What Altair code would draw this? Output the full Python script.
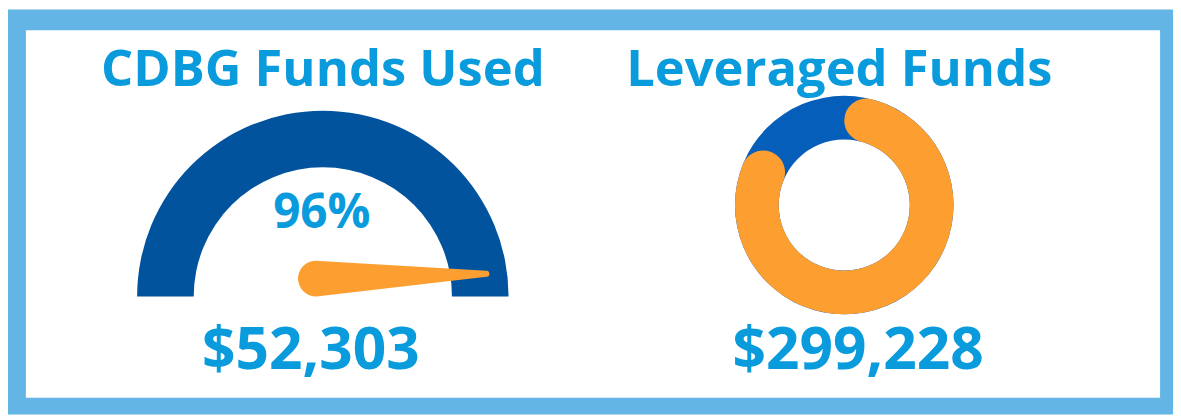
import math
import altair as alt
import pandas as pd

# ---- data ----
titles = ["CDBG Funds Used", "Leveraged Funds"]
amounts = [52303, 299228]          # CDBG used, leveraged
gauge_pct = [96]                   # percent of CDBG funds used
gauge_range = [0, 100]

# ---- layout / style ----
W, H = 1173, 408
TXT = "#0A9BDD"
GAUGE_BLUE = "#02539E"
RING_BLUE = "#045EBA"
ORANGE = "#FD9F30"
BORDER = "#62B5E5"
FONT = "Open Sans"
DX = 2
RX = 5   # right-panel offset

GCX, GCY = 315 + DX, 289          # gauge centre (px)
DCX, DCY = 837 + RX, 197          # donut centre (px)

px_x = alt.Scale(domain=[0, W], range=[0, W], nice=False, zero=False)
px_y = alt.Scale(domain=[0, H], range=[0, H], nice=False, zero=False)

one = pd.DataFrame({"k": [0]})

# border
outer = alt.Chart(one).mark_rect(color=BORDER).encode(
    x=alt.value(0), x2=alt.value(W), y=alt.value(0), y2=alt.value(H))
inner = alt.Chart(one).mark_rect(color="white").encode(
    x=alt.value(18), x2=alt.value(1160), y=alt.value(21), y2=alt.value(391))

# gauge
gdf = pd.DataFrame({"lo": [gauge_range[0]], "hi": [gauge_range[1]]})
g_scale = alt.Scale(domain=gauge_range, range=[1.5 * math.pi, 2.5 * math.pi])
gauge = alt.Chart(gdf).mark_arc(color=GAUGE_BLUE, radius=187, radius2=130).encode(
    theta=alt.Theta("lo:Q", scale=g_scale),
    theta2="hi:Q",
    x=alt.value(GCX), y=alt.value(GCY))

# needle
ang = 1.5 * math.pi + (gauge_pct[0] - gauge_range[0]) / (gauge_range[1] - gauge_range[0]) * math.pi
tip_r = 166
ndf = pd.DataFrame({
    "px": [GCX - 7, GCX + tip_r * math.sin(ang)],
    "py": [271, GCY - tip_r * math.cos(ang) - 2],
    "w": [36, 6],
    "o": [0, 1],
})
needle = alt.Chart(ndf).mark_trail(color=ORANGE).encode(
    x=alt.X("px:Q", scale=px_x, axis=None),
    y=alt.Y("py:Q", scale=px_y, axis=None),
    size=alt.Size("w:Q", scale=None, legend=None),
    order="o:Q")

# donut
total = sum(amounts)
ddf = pd.DataFrame({"start": [0, 0], "end": [total, amounts[1]],
                    "part": ["total", "leveraged"]})
d_scale = alt.Scale(domain=[0, total], range=[0, 2 * math.pi])
ring = alt.Chart(ddf[ddf.part == "total"]).mark_arc(color=RING_BLUE, radius=110, radius2=66).encode(
    theta=alt.Theta("start:Q", scale=d_scale), theta2="end:Q",
    x=alt.value(DCX), y=alt.value(DCY))
lev = alt.Chart(ddf[ddf.part == "leveraged"]).mark_arc(
    color=ORANGE, radius=110, radius2=66, cornerRadius=22).encode(
    theta=alt.Theta("start:Q", scale=d_scale), theta2="end:Q",
    x=alt.value(DCX), y=alt.value(DCY))

# titles and amounts
def label(text, x, y, size):
    return alt.Chart(pd.DataFrame({"t": [text]})).mark_text(
        font=FONT, fontWeight="bold", fontSize=size, color=TXT,
        align="center", baseline="alphabetic"
    ).encode(text="t:N", x=alt.value(x), y=alt.value(y))

pct_text = label(f"{gauge_pct[0]}%", 314 + DX, 220, 48)
t1 = label(titles[0], 315 + DX, 77, 51)
t2 = label(titles[1], 832 + RX, 77, 51)
a1 = label(f"${amounts[0]:,}", 303 + DX, 362, 59)
a2 = label(f"${amounts[1]:,}", 851 + RX, 362, 59)

chart = alt.layer(outer, inner, gauge, needle, pct_text, ring, lev, t1, t2, a1, a2).properties(
    width=W, height=H, padding=0, autosize=alt.AutoSizeParams(type="none")
).configure_view(stroke=None).resolve_scale(theta="independent")

chart.save("out.html", embed_options={"renderer": "svg", "actions": False})
